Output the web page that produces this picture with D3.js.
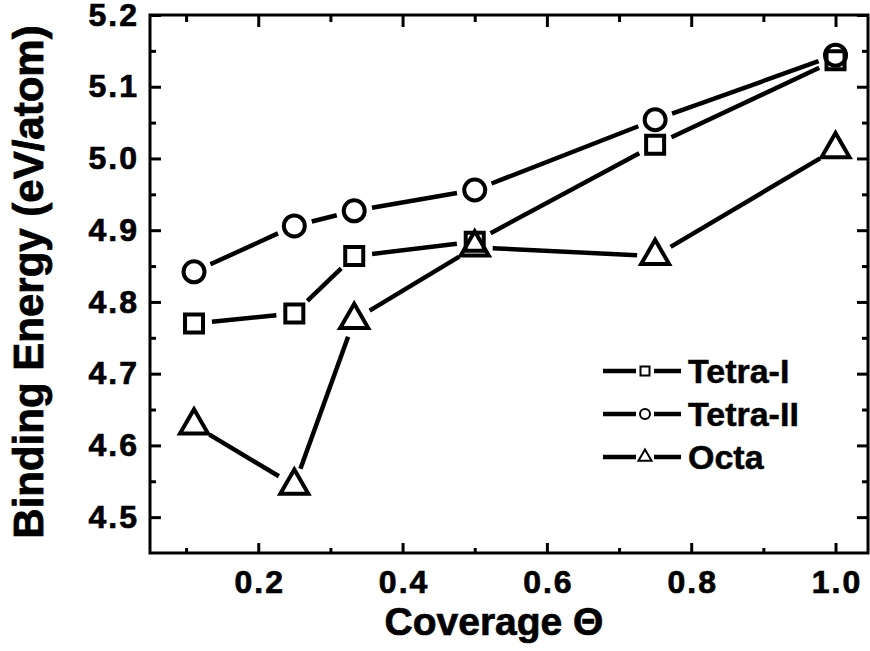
<!DOCTYPE html>
<html>
<head>
<meta charset="utf-8">
<script src="https://cdn.jsdelivr.net/npm/d3@7"></script>
<style>
  html, body { margin: 0; padding: 0; background: #fff; }
  svg text { font-family: "Liberation Sans", Arial, sans-serif; font-weight: bold; fill: #000; }
</style>
</head>
<body>
<svg id="chart" width="870" height="651"></svg>
<script>
// ---- data ----
const coverage = [0.111, 0.25, 0.333, 0.5, 0.75, 1.0];
const tetraI  = [4.770, 4.784, 4.864, 4.884, 5.019, 5.137];
const tetraII = [4.842, 4.906, 4.927, 4.956, 5.054, 5.144];
const octa    = [4.628, 4.544, 4.775, 4.876, 4.864, 5.013];
const seriesNames = ["Tetra-I", "Tetra-II", "Octa"];
const xMajorTicks = [0.2, 0.4, 0.6, 0.8, 1.0];
const xMinorTicks = [0.1, 0.3, 0.5, 0.7, 0.9];
const yMajorTicks = [4.5, 4.6, 4.7, 4.8, 4.9, 5.0, 5.1, 5.2];
const yMinorTicks = [4.55, 4.65, 4.75, 4.85, 4.95, 5.05, 5.15];
const xTitle = "Coverage \u0398";
const yTitle = "Binding Energy (eV/atom)";

// ---- layout ----
const svg = d3.select("#chart");
const L = 150, R = 868, T = 15, B = 553;
const x = d3.scaleLinear().domain([0.05, 1.045]).range([L, R]);
const y = d3.scaleLinear().domain([4.45, 5.2]).range([B, T]);

// frame
svg.append("rect").attr("x", L).attr("y", T).attr("width", R - L).attr("height", B - T)
  .attr("fill", "none").attr("stroke", "#000").attr("stroke-width", 3);

function styleAxis(g) {
  g.select(".domain").remove();
  g.selectAll(".tick line").attr("stroke", "#000").attr("stroke-width", 3);
}
const tickFont = g => g.selectAll("text").attr("font-size", 32)
  .style("letter-spacing", "2px").attr("stroke", "#000").attr("stroke-width", 0.7);
// bottom
svg.append("g").attr("transform", `translate(0,${B})`)
  .call(d3.axisBottom(x).tickValues(xMajorTicks).tickSizeInner(-10).tickSizeOuter(0)
    .tickPadding(17).tickFormat(d3.format(".1f")))
  .call(styleAxis).call(tickFont)
  .call(g => g.selectAll("text").attr("dx", "1px"));
svg.append("g").attr("transform", `translate(0,${B})`)
  .call(d3.axisBottom(x).tickValues(xMinorTicks).tickSizeInner(-5).tickSizeOuter(0).tickFormat(""))
  .call(styleAxis);
// top
svg.append("g").attr("transform", `translate(0,${T})`)
  .call(d3.axisTop(x).tickValues(xMajorTicks).tickSizeInner(-12).tickSizeOuter(0).tickFormat(""))
  .call(styleAxis);
svg.append("g").attr("transform", `translate(0,${T})`)
  .call(d3.axisTop(x).tickValues(xMinorTicks).tickSizeInner(-7).tickSizeOuter(0).tickFormat(""))
  .call(styleAxis);
// left
svg.append("g").attr("transform", `translate(${L},0)`)
  .call(d3.axisLeft(y).tickValues(yMajorTicks).tickSizeInner(-11).tickSizeOuter(0)
    .tickPadding(11).tickFormat(d3.format(".1f")))
  .call(styleAxis).call(tickFont);
svg.append("g").attr("transform", `translate(${L},0)`)
  .call(d3.axisLeft(y).tickValues(yMinorTicks).tickSizeInner(-6).tickSizeOuter(0).tickFormat(""))
  .call(styleAxis);
// right
svg.append("g").attr("transform", `translate(${R},0)`)
  .call(d3.axisRight(y).tickValues(yMajorTicks).tickSizeInner(-11).tickSizeOuter(0).tickFormat(""))
  .call(styleAxis);
svg.append("g").attr("transform", `translate(${R},0)`)
  .call(d3.axisRight(y).tickValues(yMinorTicks).tickSizeInner(-6).tickSizeOuter(0).tickFormat(""))
  .call(styleAxis);

// titles
svg.append("text").attr("x", (L + R) / 2 - 15).attr("y", 635)
  .attr("text-anchor", "middle").attr("font-size", 39)
  .attr("stroke", "#000").attr("stroke-width", 0.7).text(xTitle);
svg.append("text").attr("transform", `translate(43,${(T + B) / 2 - 2}) rotate(-90)`)
  .attr("text-anchor", "middle").attr("font-size", 42)
  .attr("stroke", "#000").attr("stroke-width", 0.8).text(yTitle);

// ---- series ----
const symbols = [d3.symbolSquare, d3.symbolCircle, d3.symbolTriangle];
const bigSizes = [18 * 18, Math.PI * 10.5 * 10.5, 340];
const seriesData = [tetraI, tetraII, octa];
const gap = 18;

const plot = svg.append("g");
seriesData.forEach((vals, si) => {
  const pts = coverage.map((c, i) => [x(c), y(vals[i])]);
  const g = plot.append("g");
  for (let i = 0; i < pts.length - 1; i++) {
    const [x0, y0] = pts[i], [x1, y1] = pts[i + 1];
    const dx = x1 - x0, dy = y1 - y0, len = Math.hypot(dx, dy);
    if (len <= 2 * gap) continue;
    const ux = dx / len, uy = dy / len;
    g.append("line")
      .attr("x1", x0 + ux * gap).attr("y1", y0 + uy * gap)
      .attr("x2", x1 - ux * gap).attr("y2", y1 - uy * gap)
      .attr("stroke", "#000").attr("stroke-width", 4.5);
  }
  g.selectAll("path.m").data(pts).join("path").attr("class", "m")
    .attr("transform", d => `translate(${d[0]},${d[1]})`)
    .attr("d", d3.symbol().type(symbols[si]).size(bigSizes[si]))
    .attr("fill", "none").attr("stroke", "#000").attr("stroke-width", 4);
});

// ---- legend ----
const legY = [371, 414, 457];
const smallSizes = [9 * 9, Math.PI * 5 * 5, 75];
const leg = svg.append("g");
seriesNames.forEach((name, si) => {
  const yy = legY[si];
  leg.append("line").attr("x1", 603).attr("x2", 636).attr("y1", yy).attr("y2", yy)
    .attr("stroke", "#000").attr("stroke-width", 4.5);
  leg.append("line").attr("x1", 654).attr("x2", 681).attr("y1", yy).attr("y2", yy)
    .attr("stroke", "#000").attr("stroke-width", 4.5);
  leg.append("path").attr("transform", `translate(645,${yy})`)
    .attr("d", d3.symbol().type(symbols[si]).size(smallSizes[si]))
    .attr("fill", "none").attr("stroke", "#000").attr("stroke-width", 2);
  leg.append("text").attr("x", 688).attr("y", yy + 12).attr("font-size", 34)
    .attr("stroke", "#000").attr("stroke-width", 0.5).text(name);
});
</script>
</body>
</html>
